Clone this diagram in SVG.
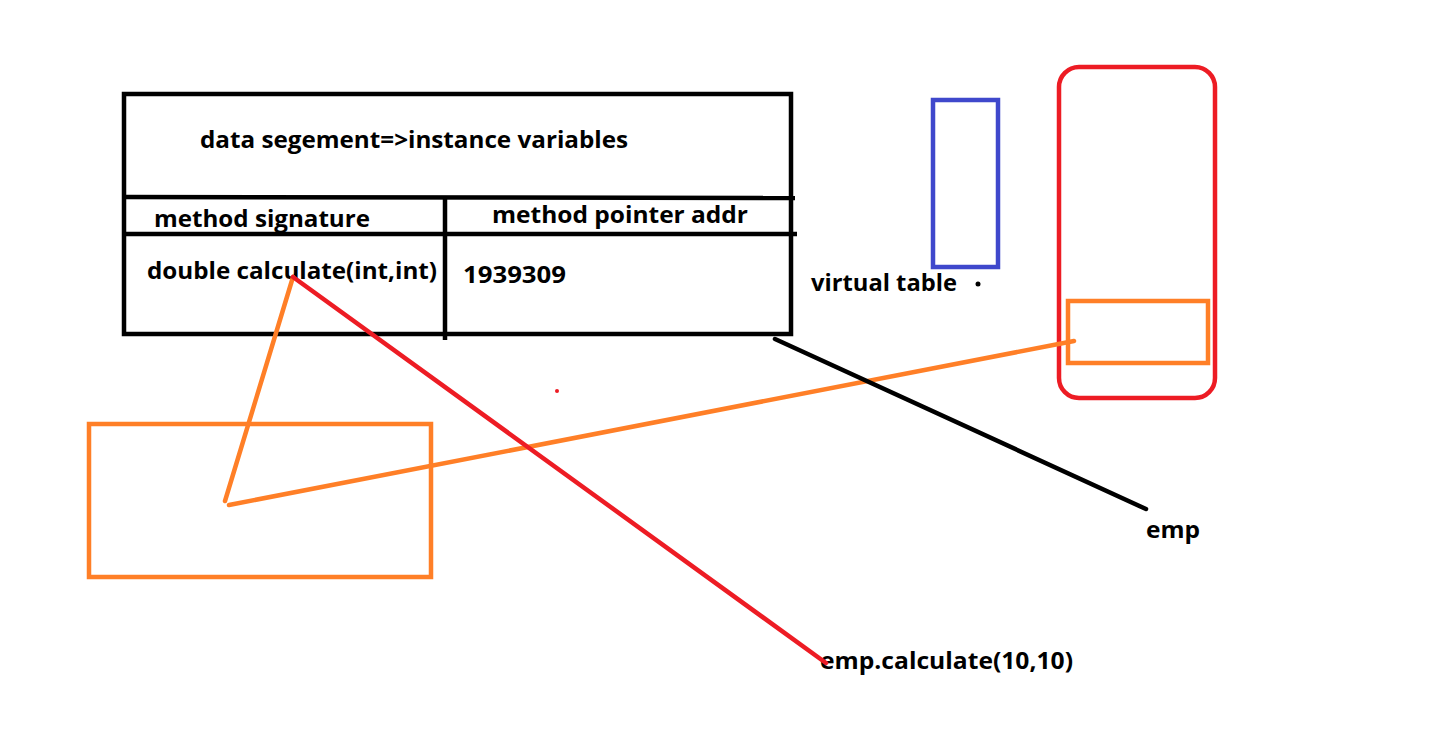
<svg xmlns="http://www.w3.org/2000/svg" width="1442" height="731" viewBox="0 0 1442 731">
<style>
.t{font-family:"Open Sans","Liberation Sans",sans-serif;font-weight:bold;font-size:24px;fill:#000}
.blk{stroke:#000;stroke-width:4.5;fill:none}
.org{stroke:#FF7F27;stroke-width:4.5;fill:none}
.red{stroke:#ED1C24;stroke-width:4.5;fill:none}
.blu{stroke:#3F48CC;stroke-width:4.5;fill:none}
</style>
<rect width="1442" height="731" fill="#fff"/>
<g id="table">
<rect class="blk" x="124" y="94" width="667" height="240"/>
<line class="blk" x1="124" y1="197" x2="795" y2="198"/>
<line class="blk" x1="124" y1="234" x2="797" y2="234"/>
<line class="blk" x1="445" y1="197" x2="445" y2="340"/>
<text class="t" x="200" y="148" textLength="428" lengthAdjust="spacingAndGlyphs">data segement=&gt;instance variables</text>
<text class="t" x="154" y="227" textLength="216" lengthAdjust="spacingAndGlyphs">method signature</text>
<text class="t" x="492" y="223" textLength="256" lengthAdjust="spacingAndGlyphs">method pointer addr</text>
<text class="t" x="147" y="279" textLength="290" lengthAdjust="spacingAndGlyphs">double calculate(int,int)</text>
<text class="t" x="463" y="283" textLength="103" lengthAdjust="spacingAndGlyphs">1939309</text>
</g>
<g id="vtable">
<rect class="blu" x="933" y="100" width="65" height="167"/>
<text class="t" x="811" y="291" textLength="146" lengthAdjust="spacingAndGlyphs">virtual table</text>
<circle cx="978" cy="284" r="2.5" fill="#000"/>
</g>
<g id="object">
<rect class="red" x="1059" y="67" width="156" height="331" rx="20"/>
<rect class="org" x="1068" y="301" width="140" height="62"/>
</g>
<g id="method-box">
<rect class="org" x="89" y="424" width="342" height="153"/>
</g>
<g id="labels">
<text class="t" x="1146" y="538" textLength="54" lengthAdjust="spacingAndGlyphs">emp</text>
<text class="t" x="820" y="669" textLength="253" lengthAdjust="spacingAndGlyphs">emp.calculate(10,10)</text>
</g>
<g id="connectors" stroke-linecap="round">
<line class="org" x1="293" y1="277" x2="225" y2="501"/>
<line class="org" x1="229" y1="505" x2="1074" y2="341"/>
<line class="red" x1="293" y1="277" x2="826" y2="663"/>
<line class="blk" x1="775" y1="339" x2="1146" y2="509"/>
<circle cx="557" cy="391" r="2" fill="#ED1C24"/>
</g>
</svg>
